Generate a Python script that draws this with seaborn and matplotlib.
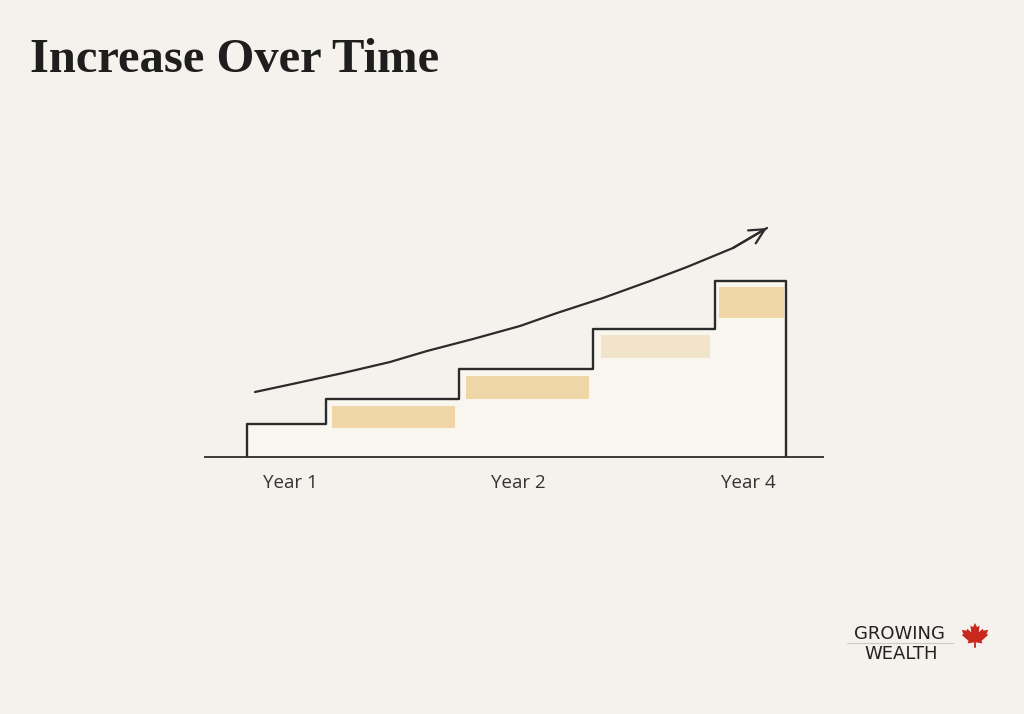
import numpy as np
import matplotlib
matplotlib.use("Agg")
import matplotlib.pyplot as plt
from matplotlib.patches import Polygon
import seaborn as sns

# ---- data (abstract units: 1 unit ~ 10 px) ----
step_edges = [4.2, 12.1, 25.4, 38.8, 51.0, 58.1]
step_heights = [3.3, 5.8, 8.8, 12.8, 17.6]

bar_left = [12.7, 26.1, 39.6, 51.4]
bar_right = [25.0, 38.4, 50.5, 57.9]
bar_bottom = [2.9, 5.8, 9.9, 13.9]
bar_top = [5.1, 8.1, 12.2, 17.0]
bar_colors = ["#f0d6a7", "#f0d6a7", "#f2e3cb", "#f0d6a7"]

trend_x = [5.0, 9.2, 13.8, 18.5, 22.2, 26.8, 31.5, 35.2, 39.8, 44.5, 48.2, 52.8, 56.2]
trend_y = [6.5, 7.4, 8.4, 9.5, 10.6, 11.8, 13.1, 14.4, 15.9, 17.6, 19.0, 20.9, 22.9]

tick_pos = [8.5, 31.3, 54.3]
tick_labels = ["Year 1", "Year 2", "Year 4"]

title = "Increase Over Time"
logo_lines = ["GROWING", "WEALTH"]

BG = "#f5f2ed"
FILL = "#f9f6ef"
INK = "#2b2b2b"

sns.set_theme(style="white")
plt.rcParams["font.family"] = ["Open Sans", "DejaVu Sans"]

fig = plt.figure(figsize=(10.24, 7.14), dpi=100, facecolor=BG)
ax = fig.add_axes([205 / 1024, 257 / 714, 618 / 1024, 257 / 714])
ax.set_facecolor("none")
ax.set_xlim(0, 61.8)
ax.set_ylim(0, 25.7)

# staircase outline
sx, sy = [step_edges[0]], [0.0]
for i, h in enumerate(step_heights):
    sx += [step_edges[i], step_edges[i + 1]]
    sy += [h, h]
sx.append(step_edges[-1])
sy.append(0.0)

ax.fill_between(step_edges, step_heights + [step_heights[-1]], 0, step="post",
                color=FILL, lw=0, zorder=1)

for l, r, b, t, c in zip(bar_left, bar_right, bar_bottom, bar_top, bar_colors):
    ax.bar(l, t - b, width=r - l, bottom=b, align="edge", color=c, lw=0, zorder=2)

ax.plot(sx, sy, color=INK, lw=1.7, solid_joinstyle="round", zorder=3)

sns.lineplot(x=trend_x, y=trend_y, ax=ax, color=INK, lw=1.6, sort=False,
             estimator=None, zorder=4)
ax.annotate("", xy=(trend_x[-1], trend_y[-1]), xytext=(trend_x[-2], trend_y[-2]),
            arrowprops=dict(arrowstyle="->", color=INK, lw=1.6, mutation_scale=27,
                            shrinkA=0, shrinkB=0), zorder=4)

for s in ["top", "left", "right"]:
    ax.spines[s].set_visible(False)
ax.spines["bottom"].set_color("#3a3a3a")
ax.spines["bottom"].set_linewidth(1.4)
ax.set_yticks([])
ax.set_xticks(tick_pos)
ax.set_xticklabels(tick_labels, fontsize=13.5, color="#333333")
ax.tick_params(axis="x", length=0, pad=12.5)
ax.set_xlabel("")
ax.set_ylabel("")

# overlay in pixel coords
ov = fig.add_axes([0, 0, 1, 1])
ov.set_xlim(0, 1024)
ov.set_ylim(714, 0)
ov.axis("off")
ov.patch.set_alpha(0)

ov.text(30, 72, title, fontsize=35, fontweight="bold", family="Liberation Serif",
        color="#1e1e1e", ha="left", va="baseline")

ov.text(899, 639, logo_lines[0], fontsize=13, family="DejaVu Sans", color="#222222",
        ha="center", va="baseline")
ov.text(901, 659, logo_lines[1], fontsize=13, family="DejaVu Sans", color="#222222",
        ha="center", va="baseline")
ov.plot([847, 953], [642.5, 642.5], color="#cfcac2", lw=0.8)

half = [(0, -1.0), (0.12, -0.76), (0.27, -0.84), (0.22, -0.45), (0.45, -0.66),
        (0.5, -0.55), (0.78, -0.6), (0.68, -0.35), (0.78, -0.3), (0.38, 0.05),
        (0.44, 0.2), (0.05, 0.14), (0.06, 0.45), (0.0, 0.45)]
pts = half + [(-x, y) for x, y in reversed(half)]
cx, cy, sc = 975, 640, 17
leaf = Polygon([(cx + x * sc, cy + y * sc) for x, y in pts], closed=True,
               color="#c8281e", lw=0)
ov.add_patch(leaf)

fig.savefig("out.png", dpi=100, facecolor=BG)
